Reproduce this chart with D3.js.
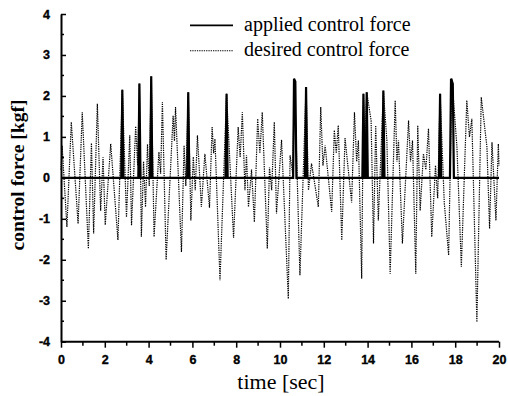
<!DOCTYPE html>
<html>
<head>
<meta charset="utf-8">
<script src="https://cdn.jsdelivr.net/npm/d3@7"></script>
<style>
  body { margin: 0; background: #fff; }
  svg { display: block; }
  .tick-label { font-family: "Liberation Sans", Arial, sans-serif; font-weight: bold; font-size: 12.5px; stroke: #000; stroke-width: 0.35px; }
  .title { font-family: "Liberation Serif", "Times New Roman", serif; }
</style>
</head>
<body>
<svg width="508" height="396"></svg>
<script>
// desired control force, read peak by peak off the picture
const desiredTime = [
  0.00, 0.05, 0.27, 0.47, 0.78, 0.97, 1.25, 1.39, 1.49, 1.66, 1.81, 1.92, 2.02, 2.27, 2.60,
  2.80, 2.99, 3.14, 3.22, 3.41, 3.50, 3.58, 3.67, 3.77, 3.86, 3.95, 4.03, 4.12, 4.25, 4.47,
  4.55, 4.63, 4.80, 5.12, 5.18, 5.23, 5.50, 5.62, 5.70, 5.81, 5.93, 6.04, 6.13, 6.23, 6.41,
  6.57, 6.78, 6.90, 6.97, 7.03, 7.26, 7.56, 7.88, 8.09, 8.18, 8.28, 8.40, 8.47, 8.56, 8.70,
  8.83, 8.98, 9.08, 9.19, 9.42, 9.52, 9.62, 9.74, 9.84, 10.07, 10.38, 10.46, 10.58, 10.66, 10.91,
  11.19, 11.30, 11.44, 11.75, 11.86, 11.96, 12.06, 12.36, 12.48, 12.57, 12.66, 12.82, 12.97, 13.27, 13.40,
  13.50, 13.58, 13.73, 13.81, 13.88, 13.96, 14.16, 14.27, 14.37, 14.49, 14.72, 14.88, 15.03, 15.26, 15.34,
  15.41, 15.59, 15.87, 15.96, 16.05, 16.20, 16.29, 16.40, 16.55, 16.66, 16.78, 16.93, 17.10, 17.20, 17.31,
  17.50, 17.70, 17.85, 18.08, 18.28, 18.53, 18.65, 18.76, 18.99, 19.19, 19.45, 19.57, 19.68, 19.86, 19.97,
  20.00
];
const desiredForce = [
  0.20, 0.79, -1.20, 1.36, -1.12, 1.60, -1.73, 0.85, -1.36, 1.81, -0.80, 0.50, -1.15, 0.83, -1.52,
  2.15, -0.96, 1.04, -1.16, 1.26, 0.30, 2.30, -1.44, 0.40, -0.71, 0.82, -0.20, 2.48, -1.44, 0.63,
  0.10, 1.85, -2.00, 1.52, 0.90, 1.73, -1.81, 0.79, -0.20, 2.09, -1.04, 0.51, -0.30, 1.04, -0.71,
  0.59, -0.73, 1.24, 0.60, 0.95, -2.50, 2.05, -1.47, 1.24, 0.50, 1.60, -0.30, 0.55, -0.71, 0.20,
  -1.08, 1.44, 0.60, 1.60, -1.73, 0.25, -0.30, 1.36, -0.87, 0.93, -2.95, 0.55, 0.10, 2.42, -2.38,
  2.22, -0.30, 0.35, -0.71, 1.73, 0.30, 0.79, -0.83, 1.16, 0.60, 1.28, -1.52, 0.97, -0.60, 1.60,
  0.40, 0.91, -2.46, 2.05, 0.80, 2.09, 1.40, -1.60, 1.28, -1.04, 2.13, 0.91, -2.34, 1.89, 0.40,
  0.91, -1.60, 1.40, 0.40, 0.91, -2.34, 1.28, -0.80, 0.59, 0.20, 1.20, -1.44, 0.30, -0.50, 2.05,
  -0.60, -1.89, 2.42, 0.75, -2.17, 1.89, 1.00, 1.44, -3.52, 1.97, 0.75, -1.24, 0.87, -1.04, 0.83,
  0.30
];

// applied control force: zero except where it follows the desired force
const appliedTime = [
  0.00, 2.75, 2.80, 2.85, 3.53, 3.58, 3.63, 4.07, 4.12, 4.17, 5.76, 5.81, 5.86,
  7.51, 7.56, 7.61, 10.60, 10.64, 10.70, 10.75, 11.14, 11.19, 11.24, 13.76, 13.81, 13.86,
  13.91, 13.96, 14.01, 14.67, 14.72, 14.77, 17.26, 17.31, 17.36, 17.76, 17.81, 17.89, 17.94, 20.00
];
const appliedForce = [
  0, 0, 2.15, 0, 0, 2.30, 0, 0, 2.48, 0, 0, 2.09, 0,
  0, 2.05, 0, 0, 2.42, 2.35, 0, 0, 2.22, 0, 0, 2.05, 0,
  0, 2.09, 0, 0, 2.13, 0, 0, 2.05, 0, 0, 2.42, 2.30, 0, 0
];

const xTicks = [0, 2, 4, 6, 8, 10, 12, 14, 16, 18, 20];
const xMinor = [1, 3, 5, 7, 9, 11, 13, 15, 17, 19];
const yTicks = [-4, -3, -2, -1, 0, 1, 2, 3, 4];
const yMinor = [-3.5, -2.5, -1.5, -0.5, 0.5, 1.5, 2.5, 3.5];

const seriesNames = ["applied control force", "desired control force"];

const svg = d3.select("svg");
const x = d3.scaleLinear().domain([0, 20]).range([61, 499]);
const y = d3.scaleLinear().domain([-4, 4]).range([341.7, 14]);

const line = d3.line().x(d => x(d[0])).y(d => y(d[1]));

const desired = d3.zip(desiredTime, desiredForce);
const applied = d3.zip(appliedTime, appliedForce);

svg.append("path")
  .datum(desired)
  .attr("d", line)
  .attr("fill", "none")
  .attr("stroke", "#000")
  .attr("stroke-width", 1.2)
  .attr("stroke-dasharray", "1.3,1");

svg.append("path")
  .datum(applied)
  .attr("d", line)
  .attr("fill", "none")
  .attr("stroke", "#000")
  .attr("stroke-width", 2.2)
  .attr("stroke-linejoin", "miter");

// axes
const xAxis = svg.append("g")
  .attr("transform", `translate(0,${y(-4)})`)
  .call(d3.axisBottom(x).tickValues(xTicks).tickSize(6).tickPadding(7).tickFormat(d3.format("d")));
xAxis.append("g").selectAll("line")
  .data(xMinor)
  .join("line")
  .attr("x1", d => x(d)).attr("x2", d => x(d))
  .attr("y1", 0).attr("y2", 4)
  .attr("stroke", "#000").attr("stroke-width", 1.5);

const yAxis = svg.append("g")
  .attr("transform", `translate(${x(0)},0)`)
  .call(d3.axisLeft(y).tickValues(yTicks).tickSizeInner(-5).tickSizeOuter(0).tickPadding(11).tickFormat(d3.format("d")));
yAxis.append("g").selectAll("line")
  .data(yMinor)
  .join("line")
  .attr("y1", d => y(d)).attr("y2", d => y(d))
  .attr("x1", 0).attr("x2", 3)
  .attr("stroke", "#000").attr("stroke-width", 1.5);

[xAxis, yAxis].forEach(g => {
  g.select(".domain").attr("stroke", "#000").attr("stroke-width", 2);
  g.selectAll(".tick line").attr("stroke", "#000").attr("stroke-width", 1.5);
  g.selectAll(".tick text")
    .attr("class", "tick-label")
    .attr("fill", "#000")
    .text(d => d < 0 ? "-" + Math.abs(d) : d);
});
xAxis.select(".domain").attr("d", `M${x(0)},0H${x(20)}`);

// axis titles
svg.append("text")
  .attr("class", "title")
  .attr("x", 281)
  .attr("y", 389)
  .attr("text-anchor", "middle")
  .attr("font-size", 22)
  .text("time [sec]");

svg.append("text")
  .attr("class", "title")
  .attr("transform", `translate(24,175) rotate(-90)`)
  .attr("text-anchor", "middle")
  .attr("font-size", 19.5)
  .attr("font-weight", "bold")
  .text("control force [kgf]");

// legend
const legend = svg.append("g");
legend.selectAll("line")
  .data(seriesNames)
  .join("line")
  .attr("x1", 190).attr("x2", 233)
  .attr("y1", (d, i) => 25.3 + i * 25.4)
  .attr("y2", (d, i) => 25.3 + i * 25.4)
  .attr("stroke", "#000")
  .attr("stroke-width", (d, i) => i === 0 ? 1.8 : 1.1)
  .attr("stroke-dasharray", (d, i) => i === 0 ? null : "1.3,1");
legend.selectAll("text")
  .data(seriesNames)
  .join("text")
  .attr("class", "title")
  .attr("x", 244)
  .attr("y", (d, i) => 31 + i * 25)
  .attr("font-size", 20)
  .text(d => d);
</script>
</body>
</html>
